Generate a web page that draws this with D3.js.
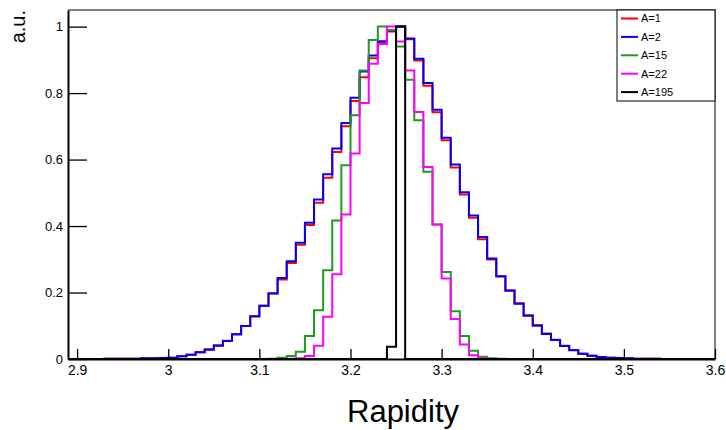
<!DOCTYPE html>
<html>
<head>
<meta charset="utf-8">
<script src="https://cdn.jsdelivr.net/npm/d3@7"></script>
<style>
  body { margin: 0; background: #fff; }
  text { font-family: "Liberation Sans", Arial, sans-serif; }
</style>
</head>
<body>
<svg width="726" height="430"></svg>
<script>
// Histogram binning: 71 bins of 0.01 from 2.89 to 3.60
let binLow = 2.89;
let binHigh = 3.60;
let nBins = 71;

// Bin contents (a.u.), bin k covers [2.89 + 0.01k, 2.90 + 0.01k]
let histA1 = [0, 0, 0, 0, 0.0005, 0.0005, 0.001, 0.001, 0.002, 0.002,
  0.003, 0.004, 0.008, 0.013, 0.02, 0.029, 0.041, 0.055, 0.075, 0.099,
  0.129, 0.16, 0.198, 0.239, 0.289, 0.344, 0.403, 0.47, 0.545, 0.623,
  0.70, 0.776, 0.848, 0.905, 0.951, 0.985, 1.0, 0.962, 0.898, 0.822,
  0.742, 0.658, 0.576, 0.495, 0.425, 0.36, 0.299, 0.25, 0.207, 0.168,
  0.132, 0.102, 0.077, 0.058, 0.04, 0.027, 0.016, 0.01, 0.006, 0.004,
  0.003, 0.002, 0.001, 0.001, 0.0005, 0, 0, 0, 0, 0, 0];
let histA2 = [0, 0, 0, 0, 0.0005, 0.0005, 0.001, 0.001, 0.002, 0.002,
  0.003, 0.004, 0.008, 0.013, 0.02, 0.028, 0.04, 0.054, 0.074, 0.099,
  0.128, 0.16, 0.197, 0.244, 0.294, 0.35, 0.41, 0.48, 0.556, 0.633,
  0.71, 0.786, 0.865, 0.913, 0.956, 0.988, 1.0, 0.964, 0.903, 0.83,
  0.75, 0.666, 0.585, 0.502, 0.432, 0.367, 0.302, 0.248, 0.205, 0.166,
  0.13, 0.1, 0.075, 0.057, 0.039, 0.026, 0.016, 0.01, 0.006, 0.004,
  0.003, 0.002, 0.001, 0.001, 0.0005, 0, 0, 0, 0, 0, 0];
let histA15 = [0, 0, 0, 0, 0, 0, 0, 0, 0, 0,
  0, 0, 0, 0, 0, 0, 0, 0, 0, 0,
  0, 0, 0.001, 0.004, 0.009, 0.022, 0.069, 0.147, 0.267, 0.417,
  0.583, 0.733, 0.868, 0.96, 1.0, 0.99, 0.94, 0.84, 0.718, 0.563,
  0.405, 0.262, 0.144, 0.069, 0.025, 0.007, 0.002, 0.0005, 0, 0,
  0, 0, 0, 0, 0, 0, 0, 0, 0, 0,
  0, 0, 0, 0, 0, 0, 0, 0, 0, 0, 0];
let histA22 = [0, 0, 0, 0, 0, 0, 0, 0, 0, 0,
  0, 0, 0, 0, 0, 0, 0, 0, 0, 0,
  0, 0, 0, 0, 0.0005, 0.002, 0.009, 0.04, 0.127, 0.255,
  0.435, 0.618, 0.77, 0.888, 0.948, 1.0, 0.955, 0.868, 0.743, 0.578,
  0.405, 0.242, 0.12, 0.044, 0.011, 0.002, 0, 0, 0, 0,
  0, 0, 0, 0, 0, 0, 0, 0, 0, 0,
  0, 0, 0, 0, 0, 0, 0, 0, 0, 0, 0];
let histA195 = [0, 0, 0, 0, 0, 0, 0, 0, 0, 0,
  0, 0, 0, 0, 0, 0, 0, 0, 0, 0,
  0, 0, 0, 0, 0, 0, 0, 0, 0, 0,
  0, 0, 0, 0, 0, 0.037, 1.0, 0, 0, 0,
  0, 0, 0, 0, 0, 0, 0, 0, 0, 0,
  0, 0, 0, 0, 0, 0, 0, 0, 0, 0,
  0, 0, 0, 0, 0, 0, 0, 0, 0, 0, 0];

let seriesNames = ["A=1", "A=2", "A=15", "A=22", "A=195"];
let seriesColors = ["#ff0000", "#0000ff", "#1f9a1f", "#ff00ff", "#000000"];
let seriesData = [histA1, histA2, histA15, histA22, histA195];

// Tick labels
let xMajor = [2.9, 3, 3.1, 3.2, 3.3, 3.4, 3.5, 3.6];
let xLabels = ["2.9", "3", "3.1", "3.2", "3.3", "3.4", "3.5", "3.6"];
let yMajor = [0, 0.2, 0.4, 0.6, 0.8, 1];
let yLabels = ["0", "0.2", "0.4", "0.6", "0.8", "1"];

let svg = d3.select("svg");
let padL = 68, padR = 715, padT = 10, padB = 359;

let x = d3.scaleLinear().domain([binLow, binHigh]).range([padL, padR]);
let y = d3.scaleLinear().domain([0, 1.05]).range([padB, padT]);

let edges = d3.range(nBins + 1).map(i => binLow + i * (binHigh - binLow) / nBins);

// frame (top and right)
svg.append("path")
  .attr("d", `M${padL},${padT}H${padR}V${padB}`)
  .attr("fill", "none")
  .attr("stroke", "#555")
  .attr("stroke-width", 1.5);

// histograms as step lines
let step = d3.line()
  .x(d => x(d[0]))
  .y(d => y(d[1]))
  .curve(d3.curveStepAfter);

seriesData.forEach(function(h, s) {
  let pts = h.map((v, i) => [edges[i], v]);
  pts.push([edges[nBins], h[nBins - 1]]);
  svg.append("path")
    .attr("d", step(pts))
    .attr("fill", "none")
    .attr("stroke", seriesColors[s])
    .attr("stroke-width", 2);
});

// x axis
let xMinor = d3.range(2.92, 3.6, 0.02).filter(v => Math.abs(Math.round(v * 10) - v * 10) > 0.01);
let gx = svg.append("g").attr("transform", `translate(0,${padB})`);
gx.call(d3.axisBottom(x).tickValues(xMinor).tickSize(-5).tickFormat(""));
gx.call(d3.axisBottom(x)
    .tickValues(xMajor)
    .tickSize(-10)
    .tickSizeOuter(0)
    .tickPadding(6)
    .tickFormat((d, i) => xLabels[i]));
gx.selectAll("text").attr("font-size", 14).attr("fill", "#000");
gx.selectAll("line").attr("stroke", "#000").attr("stroke-width", 1.3);
gx.selectAll(".domain").attr("stroke", "#000").attr("stroke-width", 2);

// y axis
let yMinor = d3.range(0.05, 1.05, 0.05).filter(v => Math.abs(Math.round(v * 5) - v * 5) > 0.01);
let gy = svg.append("g").attr("transform", `translate(${padL},0)`);
gy.call(d3.axisLeft(y).tickValues(yMinor).tickSize(-9).tickFormat(""));
gy.call(d3.axisLeft(y)
    .tickValues(yMajor)
    .tickSize(-19)
    .tickSizeOuter(0)
    .tickPadding(5)
    .tickFormat((d, i) => yLabels[i]));
gy.selectAll("text").attr("font-size", 13).attr("fill", "#000");
gy.selectAll("line").attr("stroke", "#000").attr("stroke-width", 1.3);
gy.selectAll(".domain").attr("stroke", "#000").attr("stroke-width", 2);

// axis titles
svg.append("text")
  .attr("x", 403)
  .attr("y", 422)
  .attr("text-anchor", "middle")
  .attr("font-size", 31)
  .text("Rapidity");

svg.append("text")
  .attr("transform", "translate(25,10) rotate(-90)")
  .attr("text-anchor", "end")
  .attr("font-size", 20)
  .text("a.u.");

// legend
let legend = svg.append("g").attr("transform", "translate(617,10)");
legend.append("rect")
  .attr("width", 98)
  .attr("height", 91)
  .attr("fill", "#fff")
  .attr("stroke", "#000")
  .attr("stroke-width", 1);

let entries = legend.selectAll(".entry")
  .data(seriesNames)
  .enter().append("g")
    .attr("class", "entry")
    .attr("transform", (d, i) => `translate(0,${8.5 + i * 18.4})`);
entries.append("line")
  .attr("x1", 4).attr("x2", 21)
  .attr("stroke", (d, i) => seriesColors[i])
  .attr("stroke-width", 2);
entries.append("text")
  .attr("x", 24)
  .attr("dy", "0.35em")
  .attr("font-size", 11)
  .text(d => d);
</script>
</body>
</html>
